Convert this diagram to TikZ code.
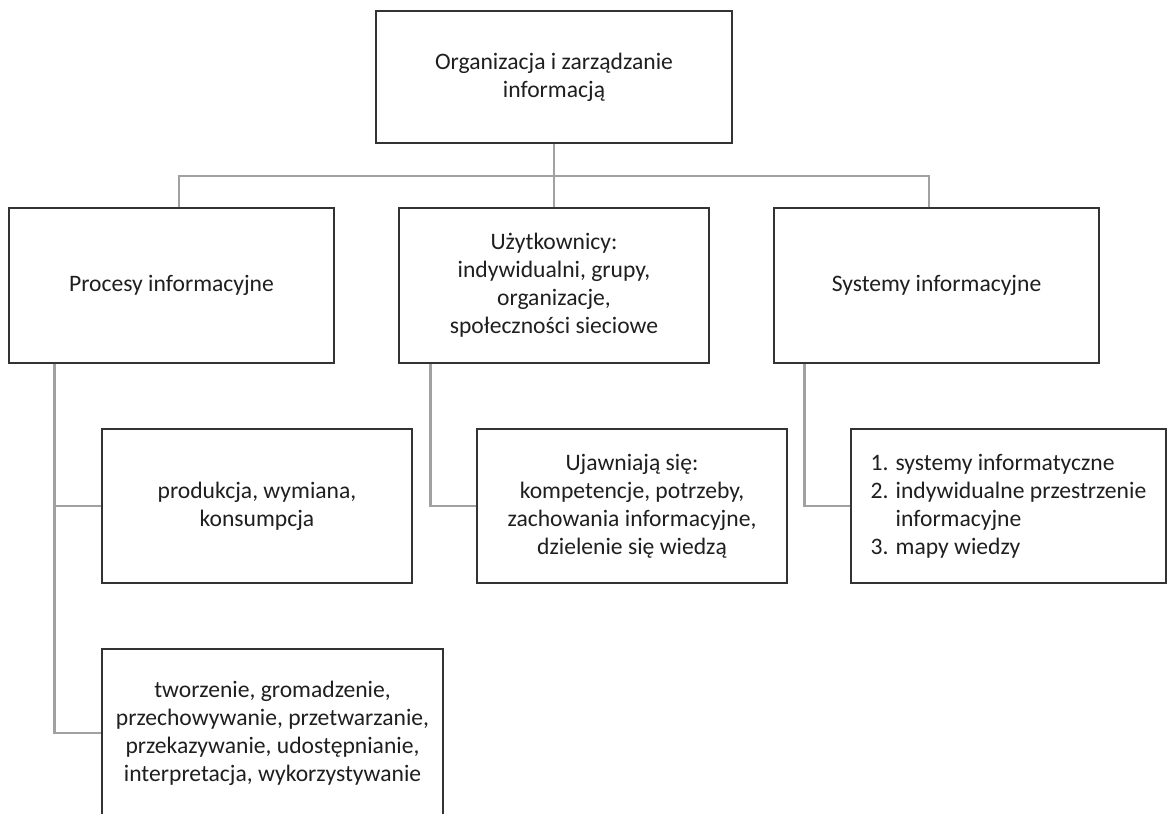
\documentclass[tikz,border=0pt]{standalone}
\usepackage{fontspec}
\setmainfont{Carlito}
\begin{document}
\begin{tikzpicture}[x=1pt,y=1pt,
  box/.style={draw=black!80, line width=1.3pt, fill=white, inner sep=0pt, align=center,
    font=\fontsize{23.6}{28}\selectfont, text=black!88},
  conn/.style={draw=black!37, line width=2.6pt}]
\clip (0,0) rectangle (1168,-814);
\useasboundingbox (0,0) rectangle (1168,-814);

\node[box, minimum width=356pt, minimum height=132pt] (top) at (554,-77) {Organizacja i zarządzanie\\informacją};
\node[box, minimum width=325pt, minimum height=155pt] (b1) at (171.5,-285.5) {Procesy informacyjne};
\node[box, minimum width=310pt, minimum height=155pt] (b2) at (554,-285.5) {Użytkownicy:\\indywidualni, grupy,\\organizacje,\\społeczności sieciowe};
\node[box, minimum width=325pt, minimum height=155pt] (b3) at (936.5,-285.5) {Systemy informacyjne};

\node[box, minimum width=310pt, minimum height=154pt] (c1) at (257,-506) {produkcja, wymiana,\\konsumpcja};
\node[box, minimum width=310pt, minimum height=154pt] (c2) at (632,-506) {Ujawniają się:\\kompetencje, potrzeby,\\zachowania informacyjne,\\dzielenie się wiedzą};
\node[box, minimum width=315pt, minimum height=154pt, align=left] (c3) at (1008.5,-506) {\makebox[25pt][l]{1.}systemy informatyczne\\\makebox[25pt][l]{2.}indywidualne przestrzenie\\\hspace*{25pt}informacyjne\\\makebox[25pt][l]{3.}mapy wiedzy};

\node[box, minimum width=341pt, minimum height=168pt] (c4) at (272.5,-733) {tworzenie, gromadzenie,\\przechowywanie, przetwarzanie,\\przekazywanie, udostępnianie,\\interpretacja, wykorzystywanie};

\coordinate (bus) at (554,-176);
\draw[conn] (top.south) -- (bus);
\draw[conn] ([xshift=7.5pt]b1.north) |- (bus) -| ([xshift=-7.5pt]b3.north);
\draw[conn] (bus) -- (b2.north);

\coordinate (p1) at ([xshift=46pt]b1.south west);
\draw[conn] (p1) |- (c1.west);
\draw[conn] (p1) |- (c4.west);
\draw[conn] ([xshift=32pt]b2.south west) |- (c2.west);
\draw[conn] ([xshift=31pt]b3.south west) |- (c3.west);
\end{tikzpicture}
\end{document}
